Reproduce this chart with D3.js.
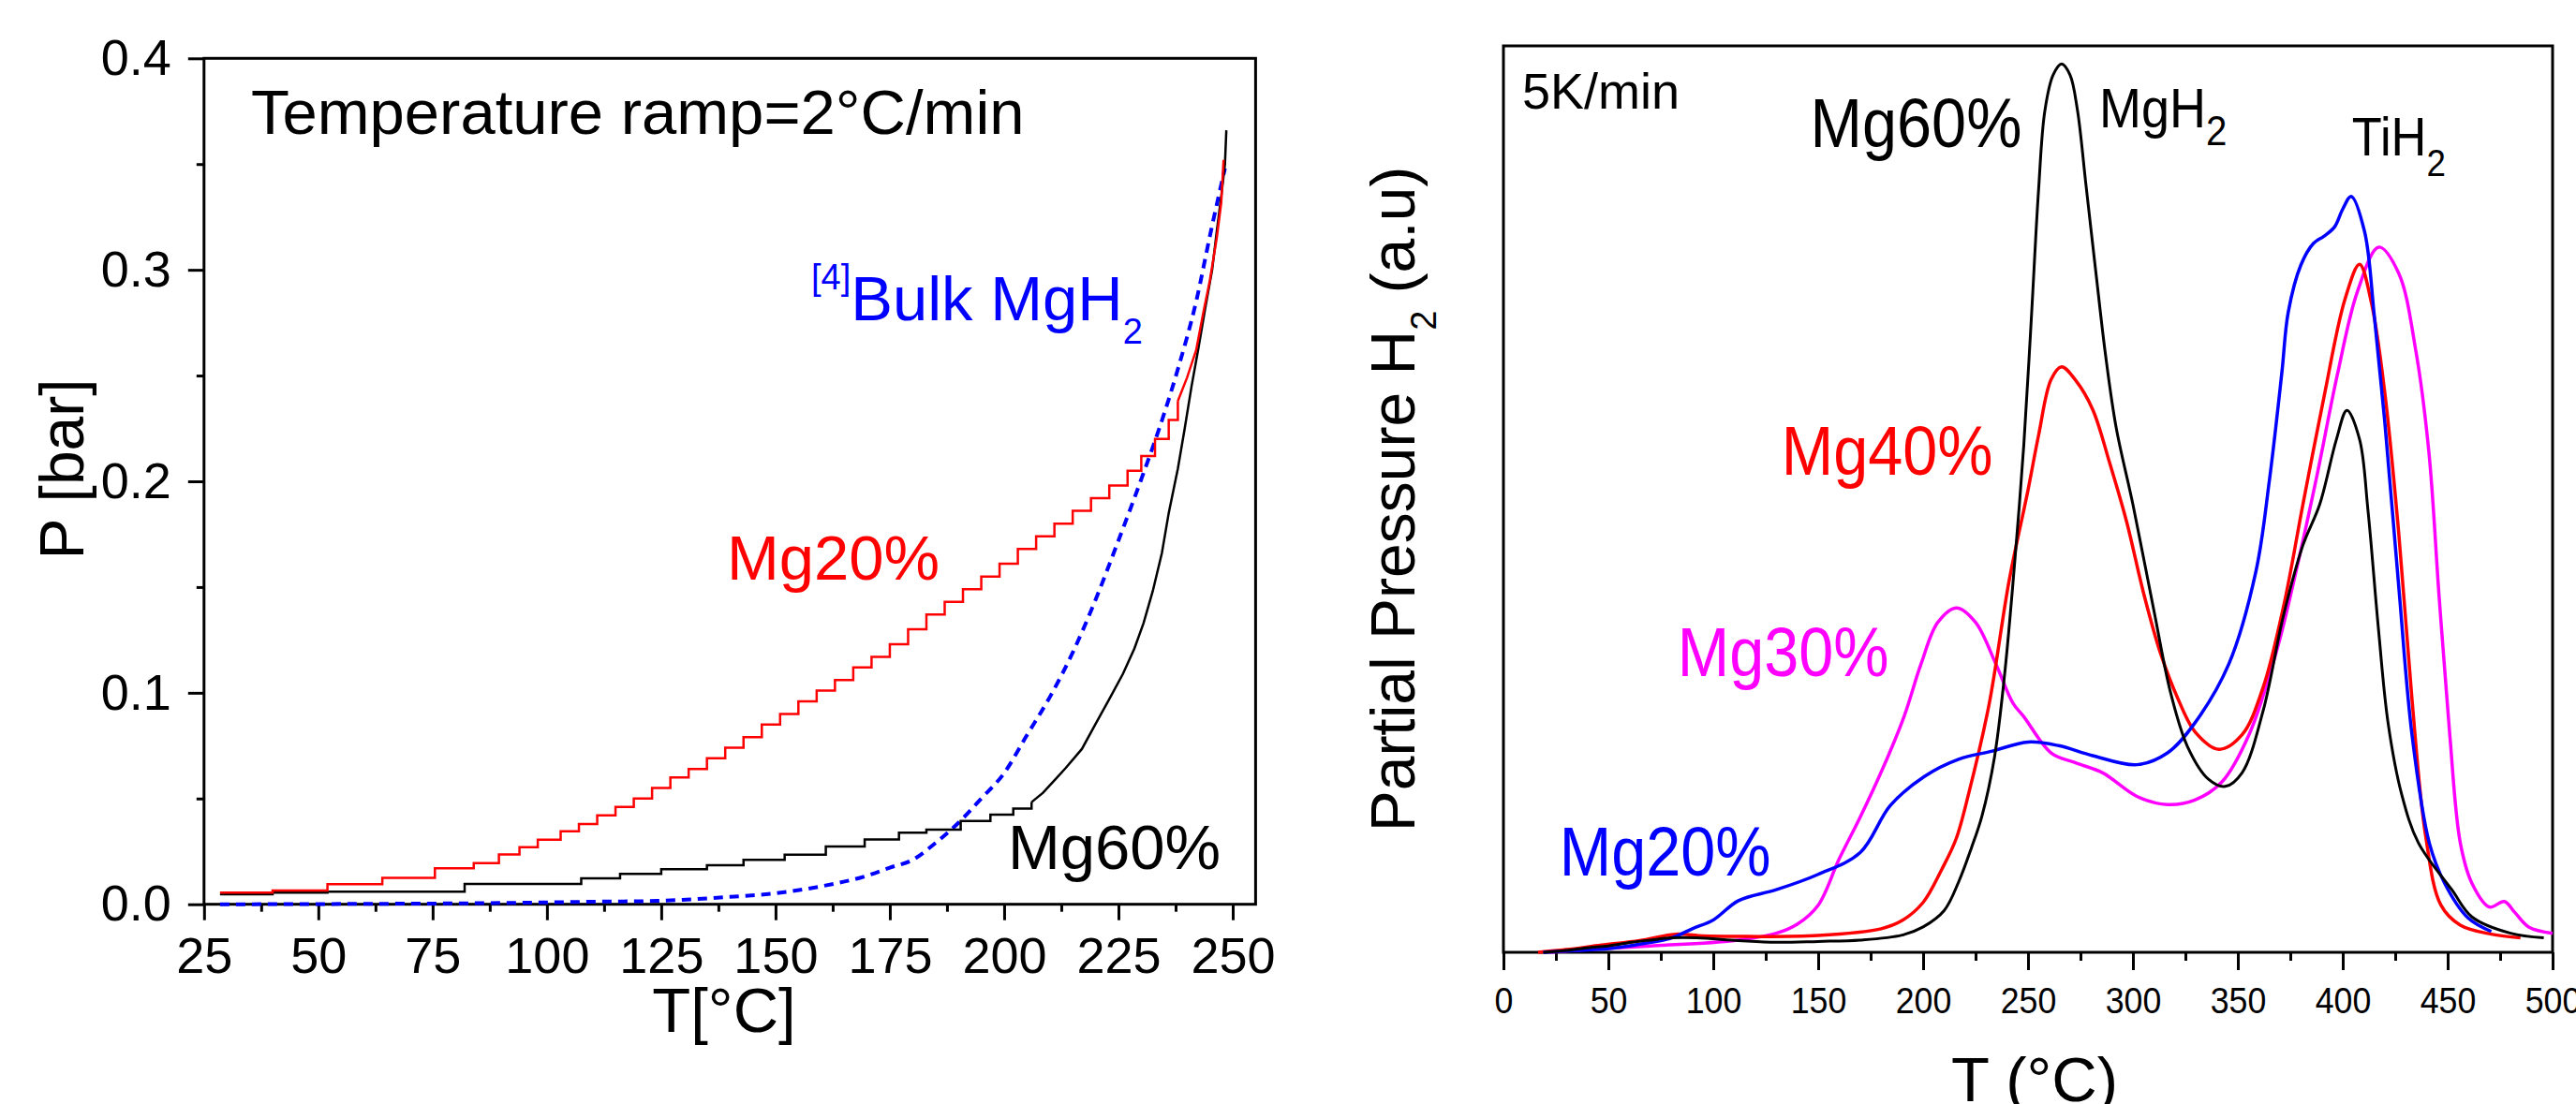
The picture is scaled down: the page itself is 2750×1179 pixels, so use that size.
<!DOCTYPE html>
<html>
<head>
<meta charset="utf-8">
<script src="https://cdn.jsdelivr.net/npm/d3@7"></script>
<style>
  body { margin: 0; background: #fff; }
  text { font-family: "Liberation Sans", Arial, sans-serif; }
</style>
</head>
<body>
<svg id="chart" width="2750" height="1179"></svg>
<script>
// left panel: P vs T, 2°C/min ramp
var leftTicksX = [25, 50, 75, 100, 125, 150, 175, 200, 225, 250];
var leftMinorX = [37.5, 62.5, 87.5, 112.5, 137.5, 162.5, 187.5, 212.5, 237.5];
var leftTicksY = [0, 0.1, 0.2, 0.3, 0.4];
var leftMinorY = [0.05, 0.15, 0.25, 0.35];

var mg20Left = [[28.5,0.0055],[40,0.0065],[52,0.0095],[64,0.0125],[75.5,0.017],[84,0.0195],[89.5,0.0236],
  [94,0.027],[98,0.0305],[103,0.0345],[107,0.038],[111,0.042],[115,0.046],[119,0.05],[123,0.055],[127,0.06],
  [131,0.064],[135,0.069],[139,0.074],[143,0.079],[147,0.085],[151,0.09],[155,0.096],[159,0.101],[163,0.106],
  [167,0.112],[171,0.117],[175,0.123],[179,0.13],[183,0.137],[187,0.143],[191,0.149],[195,0.155],[199,0.161],
  [203,0.168],[207,0.174],[211,0.18],[215,0.186],[219,0.192],[223,0.198],[227,0.205],[230,0.212],[233,0.22],
  [236,0.229],[238,0.238],[240,0.249],[242,0.262],[243.5,0.279],[245,0.295],[246.5,0.315],[247.5,0.332],[248,0.352]];

var mg60Left = [[28.5,0.0047],[40,0.0055],[52,0.006],[82,0.0096],[107.5,0.0123],[116,0.0144],[125,0.0166],
  [135,0.0185],[143,0.021],[152,0.0235],[161,0.0273],[169.5,0.0306],[177,0.0338],[183,0.0353],[190.5,0.0394],
  [197,0.0424],[202,0.0453],[206,0.0483],[208.5,0.0527],[211,0.0586],[213.5,0.0645],[217,0.0734],[220,0.0853],
  [223,0.097],[226,0.109],[228.5,0.121],[230.5,0.133],[232.5,0.148],[234.5,0.166],[236,0.185],[238,0.206],
  [239.5,0.225],[241,0.245],[242.5,0.263],[244,0.282],[245.5,0.3],[246.5,0.318],[247.5,0.335],[248.3,0.35],[248.6,0.366]];

var bulkLeft = [[28.5,0],[60,0.0002],[90,0.0006],[110,0.0012],[124,0.0016],[140,0.0035],[150,0.0052],[160,0.0085],
  [170,0.0135],[175,0.0173],[180,0.021],[185,0.029],[190,0.0385],[195,0.05],[200,0.062],[205,0.08],[210,0.098],
  [215,0.119],[220,0.144],[225,0.172],[230,0.201],[235,0.232],[238,0.253],[242,0.285],[245.3,0.319],[248.3,0.348]];

// right panel: partial pressure H2 (a.u.) vs T, 5K/min
var rightTicksX = [0, 50, 100, 150, 200, 250, 300, 350, 400, 450, 500];
var rightMinorX = [25, 75, 125, 175, 225, 275, 325, 375, 425, 475];

var mg60Right = [[19,0],[30,0.2],[40,0.5],[50,0.7],[61,1.1],[70,1.35],[80,1.6],[92,1.6],[112,1.3],[130,1.1],
  [150,1.2],[170,1.35],[190,1.9],[200,2.8],[210,4.6],[217,7.8],[223,11.5],[228,15],[234,21.5],[239,31],[244,44],
  [248,56],[251.6,70],[255,84],[258,92.8],[262,96.8],[266,98],[270,96.8],[273.5,93],[277.6,84.7],[282.4,74.9],
  [287,65.8],[292,57.9],[300,49.4],[310,37.7],[318,28.6],[326,22.7],[336,19.1],[344,18.3],[352,19.8],[362,26.6],
  [371.6,37],[381,44.9],[389,49.4],[397,56.6],[402,59.8],[408,56.6],[412,48.8],[417,35.7],[421.6,25.3],[428,17.5],
  [436,12.1],[452,6.9],[461.6,3.9],[480,2.1],[495.8,1.6]];

var mg40Right = [[16.5,0],[30,0.3],[46.7,0.8],[65,1.3],[82,2.0],[95,1.8],[110,1.75],[150,1.86],[180,2.6],[190,3.5],
  [200,5.5],[209,9.2],[215.7,12.5],[221.7,17.5],[231.4,27.3],[241,41],[250,51],[255,57],[261,63.2],[266,64.6],
  [272.7,63.1],[280.8,59.9],[288.9,54],[297,47.5],[305,39.7],[313,33.1],[321.6,27.9],[329.7,24.3],[341,22.4],
  [352,24],[362,29.2],[372,38.4],[381,49.4],[391,61.2],[401,72],[408,75.9],[413.7,71.6],[420,61.8],[426.7,46.2],
  [433,27.9],[439.4,13],[446.8,5.2],[456,3.0],[470.8,2.0],[484.7,1.6]];

var mg30Right = [[22,0],[40,0.3],[70,0.7],[110,1.3],[130,2.1],[140,3.1],[150,5.2],[160,10.3],[170,14.9],[181,20.4],
  [190.9,26],[199,31.8],[207,36.4],[216,38],[225,36.4],[234.7,31.8],[242.8,27.5],[248,26],[261,22],[272.7,20.9],
  [285.6,19.8],[301.9,17.2],[316.5,16.3],[329.5,16.8],[342.4,18.8],[355.3,24],[368.3,33.1],[378,42.3],[387.8,52.7],
  [397.5,63.8],[407,72.9],[417.2,77.8],[426.7,74.9],[434.8,66.4],[441,55.3],[446,39],[451,24],[456,12.1],
  [461.6,7.6],[469.9,5.0],[477,5.6],[482,4.4],[488.6,2.8],[500,2.1]];

var mg20Right = [[19,0],[35,0.2],[50.4,0.4],[65,0.9],[80.3,1.6],[90,2.6],[100.2,3.6],[112,5.7],[130,6.9],[150,8.6],
  [170,11],[184.4,16.2],[200.6,19.4],[216.9,21.3],[233,22.2],[250,23.2],[264.6,22.8],[280.8,21.7],[301.9,20.7],
  [316.5,22],[329.5,25.3],[345.7,31.8],[358.6,42],[365,52],[371,64],[374,70.6],[380,75.8],[386,78.2],[391,79],
  [396,80],[400,82],[404,83.4],[410.4,79.5],[415,70.3],[420,58.6],[426.7,40.3],[433,24],[441.2,12.1],[448.6,7.6],
  [459.7,3.8],[470.8,2.3]];

var svg = d3.select("#chart");
svg.append("rect").attr("width", 2750).attr("height", 1179).style("fill", "white");

// scales
var xL = d3.scaleLinear().domain([25, 255]).range([217.8, 1340.4]);
var yL = d3.scaleLinear().domain([0, 0.4]).range([965.7, 62.3]);
var xR = d3.scaleLinear().domain([0, 500]).range([1605, 2725]);
var yR = d3.scaleLinear().domain([0, 100]).range([1017, 49]);

var styleAxis = function(g, size) {
  g.select(".domain").remove();
  g.selectAll(".tick line").style("stroke", "black").style("stroke-width", 3);
  g.selectAll(".tick text").style("fill", "black").style("font-size", size + "px")
    .style("font-family", "'Liberation Sans', Arial, sans-serif");
};

// ---- left panel ----
svg.append("g").attr("transform", "translate(0," + yL(0) + ")")
  .call(d3.axisBottom(xL).tickValues(leftTicksX).tickSize(17).tickSizeOuter(0).tickPadding(18))
  .call(styleAxis, 54);
svg.append("g").attr("transform", "translate(0," + yL(0) + ")")
  .call(d3.axisBottom(xL).tickValues(leftMinorX).tickSize(8).tickSizeOuter(0).tickFormat(""))
  .call(styleAxis, 54);
svg.append("g").attr("transform", "translate(" + xL(25) + ",0)")
  .call(d3.axisLeft(yL).tickValues(leftTicksY).tickSize(17).tickSizeOuter(0).tickPadding(18).tickFormat(d3.format(".1f")))
  .call(styleAxis, 54);
svg.append("g").attr("transform", "translate(" + xL(25) + ",0)")
  .call(d3.axisLeft(yL).tickValues(leftMinorY).tickSize(8).tickSizeOuter(0).tickFormat(""))
  .call(styleAxis, 54);

svg.append("rect")
  .attr("x", xL(25)).attr("y", yL(0.4))
  .attr("width", xL(255) - xL(25)).attr("height", yL(0) - yL(0.4))
  .style("fill", "none").style("stroke", "black").style("stroke-width", 3);

var lineL = d3.line().x(function(d){return xL(d[0])}).y(function(d){return yL(d[1])});

svg.append("path").datum(bulkLeft)
  .attr("d", lineL.curve(d3.curveMonotoneX))
  .style("fill", "none").style("stroke", "blue").style("stroke-width", 4)
  .style("stroke-dasharray", "10,7");

// staircase while the pressure creeps up, plain line on the steep end
var drawStairs = function(data, cut, color) {
  var flat = data.filter(function(d){return d[0] <= cut});
  var steep = data.filter(function(d){return d[0] >= cut});
  svg.append("path").datum(flat)
    .attr("d", lineL.curve(d3.curveStepAfter))
    .style("fill", "none").style("stroke", color).style("stroke-width", 2.5);
  svg.append("path").datum(steep)
    .attr("d", lineL.curve(d3.curveLinear))
    .style("fill", "none").style("stroke", color).style("stroke-width", 2.5);
};
drawStairs(mg60Left, 206, "black");
drawStairs(mg20Left, 238, "red");

// ---- right panel ----
var rx = svg.append("g").attr("transform", "translate(0," + yR(0) + ")")
  .call(d3.axisBottom(xR).tickValues(rightTicksX).tickSize(19).tickSizeOuter(0).tickPadding(19))
  .call(styleAxis, 38);
rx.selectAll(".tick text").attr("transform", "scale(0.94,1)");
svg.append("g").attr("transform", "translate(0," + yR(0) + ")")
  .call(d3.axisBottom(xR).tickValues(rightMinorX).tickSize(9).tickSizeOuter(0).tickFormat(""))
  .call(styleAxis, 38);

svg.append("rect")
  .attr("x", xR(0)).attr("y", yR(100))
  .attr("width", xR(500) - xR(0)).attr("height", yR(0) - yR(100))
  .style("fill", "none").style("stroke", "black").style("stroke-width", 3);

var lineR = d3.line().x(function(d){return xR(d[0])}).y(function(d){return yR(d[1])})
  .curve(d3.curveCatmullRom.alpha(0.5));

var rightSeries = [
  {data: mg30Right, color: "magenta", w: 3.5},
  {data: mg40Right, color: "red", w: 3.5},
  {data: mg20Right, color: "blue", w: 3.5},
  {data: mg60Right, color: "black", w: 3}
];
rightSeries.forEach(function(s){
  svg.append("path").datum(s.data)
    .attr("d", lineR)
    .style("fill", "none").style("stroke", s.color).style("stroke-width", s.w)
    .style("stroke-linejoin", "round");
});

// text helper: parts are [string, size, dy]
var label = function(x, y, parts, color, sx, rotate) {
  var t = svg.append("text")
    .attr("transform", "translate(" + x + "," + y + ")" + (rotate ? " rotate(-90)" : "") + " scale(" + (sx || 1) + ",1)")
    .style("fill", color || "black");
  parts.forEach(function(p){
    t.append("tspan").attr("dy", p[2] || 0).style("font-size", p[1] + "px").text(p[0]);
  });
  return t;
};

// left texts
label(268, 143, [["Temperature ramp=2°C/min", 67]]);
label(866, 342, [["[4]", 38, -33], ["Bulk MgH", 67, 33], ["2", 38, 25]], "blue");
label(776, 619, [["Mg20%", 67]], "red");
label(1076, 928, [["Mg60%", 67]], "black");
label(773, 1102, [["T[°C]", 67]]).attr("text-anchor", "middle");
label(89, 501, [["P [bar]", 66]], "black", 1, true).attr("text-anchor", "middle");

// right texts
label(1625, 116, [["5K/min", 54]]);
label(1932.6, 157, [["Mg60%", 74]], "black", 0.9);
label(1901.7, 507, [["Mg40%", 74]], "red", 0.9);
label(1790.8, 722, [["Mg30%", 74]], "magenta", 0.9);
label(1664.7, 935, [["Mg20%", 74]], "blue", 0.9);
label(2241, 136, [["MgH", 59], ["2", 44, 19]], "black", 0.915);
label(2510.8, 166, [["TiH", 57], ["2", 40, 22]], "black", 0.92);
label(2172, 1176, [["T (°C)", 67]]).attr("text-anchor", "middle");
label(1510, 533, [["Partial Pressure H", 66], ["2", 38, 23], [" (a.u)", 66, -23]], "black", 1, true)
  .attr("text-anchor", "middle");
</script>
</body>
</html>
